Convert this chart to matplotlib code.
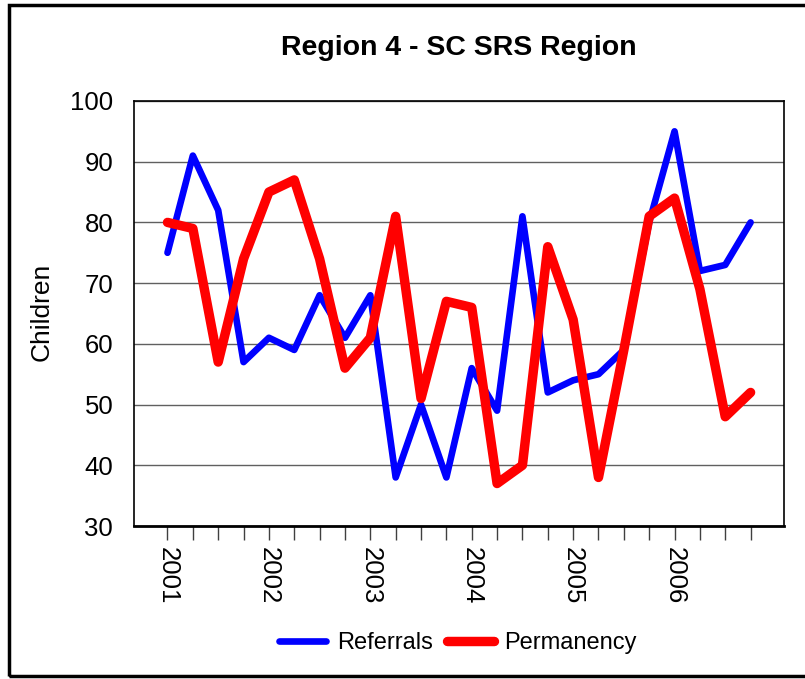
import matplotlib
matplotlib.use("Agg")
import matplotlib.pyplot as plt
from matplotlib.patches import Rectangle

plt.rcParams['font.family'] = ['Liberation Sans', 'DejaVu Sans']

years = ['2001', '2002', '2003', '2004', '2005', '2006']
referrals = [75, 91, 82, 57, 61, 59, 68, 61, 68, 38, 50, 38,
             56, 49, 81, 52, 54, 55, 59, 80, 95, 72, 73, 80]
permanency = [80, 79, 57, 74, 85, 87, 74, 56, 61, 81, 51, 67,
              66, 37, 40, 76, 64, 38, 59, 81, 84, 69, 48, 52]

quarters = list(range(len(referrals)))
tick_labels = []
for q in quarters:
    tick_labels.append(years[q // 4] if q % 4 == 0 else '')

fig = plt.figure(figsize=(8.05, 6.79), dpi=100)
ax = fig.add_axes([0.1665, 0.2253, 0.8075, 0.626])

# рамка вокруг всего рисунка (справа обрезана)
fig.patches.append(Rectangle((9 / 805, 3 / 679), 1.2, 671 / 679,
                             transform=fig.transFigure, fill=False,
                             edgecolor='black', linewidth=2.5))

ax.plot(quarters, referrals, color='#0000ff', linewidth=4.8,
        solid_capstyle='round', solid_joinstyle='round', label='Referrals')
ax.plot(quarters, permanency, color='#ff0000', linewidth=6.8,
        solid_capstyle='round', solid_joinstyle='round', label='Permanency')

ax.set_ylim(30, 100)
ax.set_yticks(range(30, 101, 10))
ax.set_xlim(-1.32, 23 + 1.32)
ax.set_xticks(quarters)
ax.set_xticklabels(tick_labels, rotation=270, fontsize=18.5)
ax.tick_params(axis='x', length=10, width=1, color='#404040', pad=5)
ax.tick_params(axis='y', length=0, pad=15, labelsize=18.5)
ax.yaxis.grid(True, color='#606060', linewidth=1)
ax.set_axisbelow(True)

for s in ['top', 'right', 'left']:
    ax.spines[s].set_linewidth(1.2)
ax.spines['bottom'].set_linewidth(2)

fig.text(42 / 805, 1 - 312 / 679, 'Children', rotation=90, fontsize=19,
         ha='center', va='center')
fig.text(459 / 805, 1 - 48 / 679, 'Region 4 - SC SRS Region', fontsize=20.5,
         fontweight='bold', ha='center', va='center')

fig.legend(loc='center', bbox_to_anchor=(458 / 805, 1 - 643 / 679), ncol=2,
           frameon=False, fontsize=17, handlelength=2.0, handletextpad=0.45,
           columnspacing=0.6)

fig.savefig('out.png', dpi=100)
